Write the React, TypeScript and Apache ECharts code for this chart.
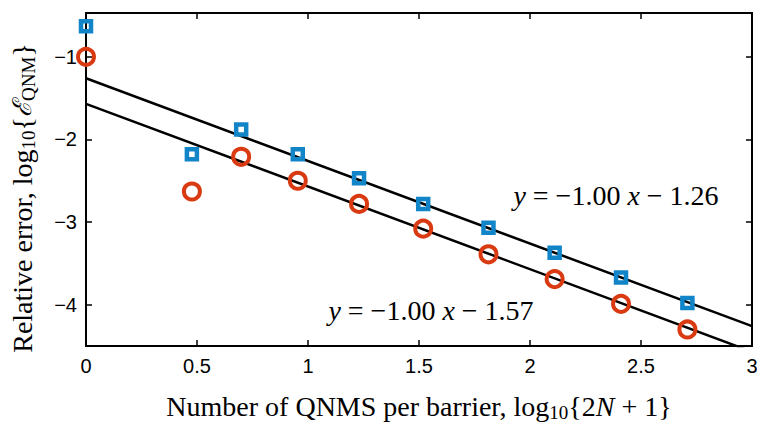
import React, { useEffect, useRef } from "react";
import * as echarts from "echarts";

// x = log10(2N+1)
const xValues = [0, 0.477, 0.699, 0.954, 1.23, 1.519, 1.813, 2.111, 2.41, 2.709];
const blueSquares = [-0.63, -2.18, -1.88, -2.18, -2.47, -2.78, -3.07, -3.37, -3.67, -3.98];
const redCircles = [-1.0, -2.63, -2.21, -2.5, -2.78, -3.08, -3.39, -3.69, -3.99, -4.3];
const fitX = [0, 3];
const fitUpper = [-1.26, -4.26];
const fitLower = [-1.57, -4.57];
const yTicks = [-4, -3, -2, -1];
const upperLabel = "{i|y} = \u22121.00 {i|x} \u2212 1.26";
const lowerLabel = "{i|y} = \u22121.00 {i|x} \u2212 1.57";

const BLUE = "#1284C8";
const RED = "#D93A12";
const SERIF = "'Liberation Serif', 'Times New Roman', serif";
const SANS = "'Liberation Sans', Arial, Helvetica, sans-serif";

const makeRich = (size: number) => ({
  i: { fontFamily: SERIF, fontStyle: "italic", fontSize: size, lineHeight: 32, color: "#000" },
  s: { fontFamily: SERIF, fontSize: Math.round(size * 0.68), lineHeight: 12, verticalAlign: "bottom", color: "#000" },
  e: { fontFamily: "'DejaVu Serif', serif", fontStyle: "italic", fontSize: size - 2, lineHeight: 32, color: "#000" },
});

export default function App() {
  const ref = useRef<HTMLDivElement>(null);
  useEffect(() => {
    if (!ref.current) return;
    const chart = echarts.init(ref.current, undefined, { renderer: "svg" });
    const axisCommon = {
      type: "value" as const,
      axisLine: { show: true, onZero: false, lineStyle: { color: "#000", width: 2 } },
      axisTick: { show: true, inside: true, length: 6, lineStyle: { color: "#000", width: 1.5 } },
      splitLine: { show: false },
    };
    const minusFmt = (v: number) => String(v).replace("-", "\u2212");
    const annStyle = (text: string) => ({
      text,
      fontFamily: SERIF,
      fontSize: 28,
      lineHeight: 32,
      fill: "#000",
      align: "center",
      verticalAlign: "middle",
      rich: makeRich(28),
    });
    chart.setOption({
      animation: false,
      backgroundColor: "#fff",
      grid: { left: 86, right: 5, top: 13, bottom: 77, containLabel: false, outerBoundsMode: "none" },
      xAxis: [
        {
          ...axisCommon,
          position: "bottom",
          min: 0,
          max: 3,
          interval: 0.5,
          axisLabel: { color: "#000", fontSize: 20, fontFamily: SANS, margin: 10 },
          name: "Number of QNMS per barrier, log{s|10}{2{i|N} + 1}",
          nameLocation: "middle",
          nameGap: 44,
          nameTextStyle: {
            fontFamily: SERIF,
            fontSize: 28,
            lineHeight: 32,
            color: "#000",
            rich: makeRich(28),
          },
        },
        {
          ...axisCommon,
          position: "top",
          min: 0,
          max: 3,
          interval: 0.5,
          axisLabel: { show: false },
        },
      ],
      yAxis: [
        {
          ...axisCommon,
          position: "left",
          min: -4.5,
          max: -0.47,
          axisTick: { ...axisCommon.axisTick, customValues: yTicks },
          axisLabel: {
            customValues: yTicks,
            color: "#000",
            fontSize: 20,
            fontFamily: SANS,
            margin: 9,
            formatter: minusFmt,
          },
        },
        {
          ...axisCommon,
          position: "right",
          min: -4.5,
          max: -0.47,
          axisTick: { ...axisCommon.axisTick, customValues: yTicks },
          axisLabel: { show: false },
        },
      ],
      graphic: [
        {
          type: "text",
          x: 22,
          y: 198,
          rotation: Math.PI / 2,
          style: {
            text: "Relative error, log{s|10}{{e|\u2130}{s|QNM}}",
            fontFamily: SERIF,
            fontSize: 28,
            lineHeight: 32,
            fill: "#000",
            align: "center",
            verticalAlign: "middle",
            rich: makeRich(28),
          },
        },
        { type: "text", x: 616, y: 195, style: annStyle(upperLabel) },
        { type: "text", x: 431, y: 310, style: annStyle(lowerLabel) },
      ],
      series: [
        {
          type: "line",
          data: fitX.map((x, i) => [x, fitUpper[i]]),
          symbol: "none",
          clip: true,
          lineStyle: { color: "#000", width: 2.5 },
          z: 2,
        },
        {
          type: "line",
          data: fitX.map((x, i) => [x, fitLower[i]]),
          symbol: "none",
          clip: true,
          lineStyle: { color: "#000", width: 2.5 },
          z: 2,
        },
        {
          type: "scatter",
          data: xValues.map((x, i) => [x, blueSquares[i]]),
          symbol: "rect",
          symbolSize: 10,
          clip: false,
          itemStyle: { color: "rgba(0,0,0,0)", borderColor: BLUE, borderWidth: 4.5, opacity: 1 },
          z: 3,
        },
        {
          type: "scatter",
          data: xValues.map((x, i) => [x, redCircles[i]]),
          symbol: "circle",
          symbolSize: 16,
          clip: false,
          itemStyle: { color: "rgba(0,0,0,0)", borderColor: RED, borderWidth: 4, opacity: 1 },
          z: 3,
        },
      ],
    });
    return () => chart.dispose();
  }, []);
  return <div ref={ref} style={{ width: 757, height: 423, position: "absolute", left: 0, top: 0 }} />;
}
